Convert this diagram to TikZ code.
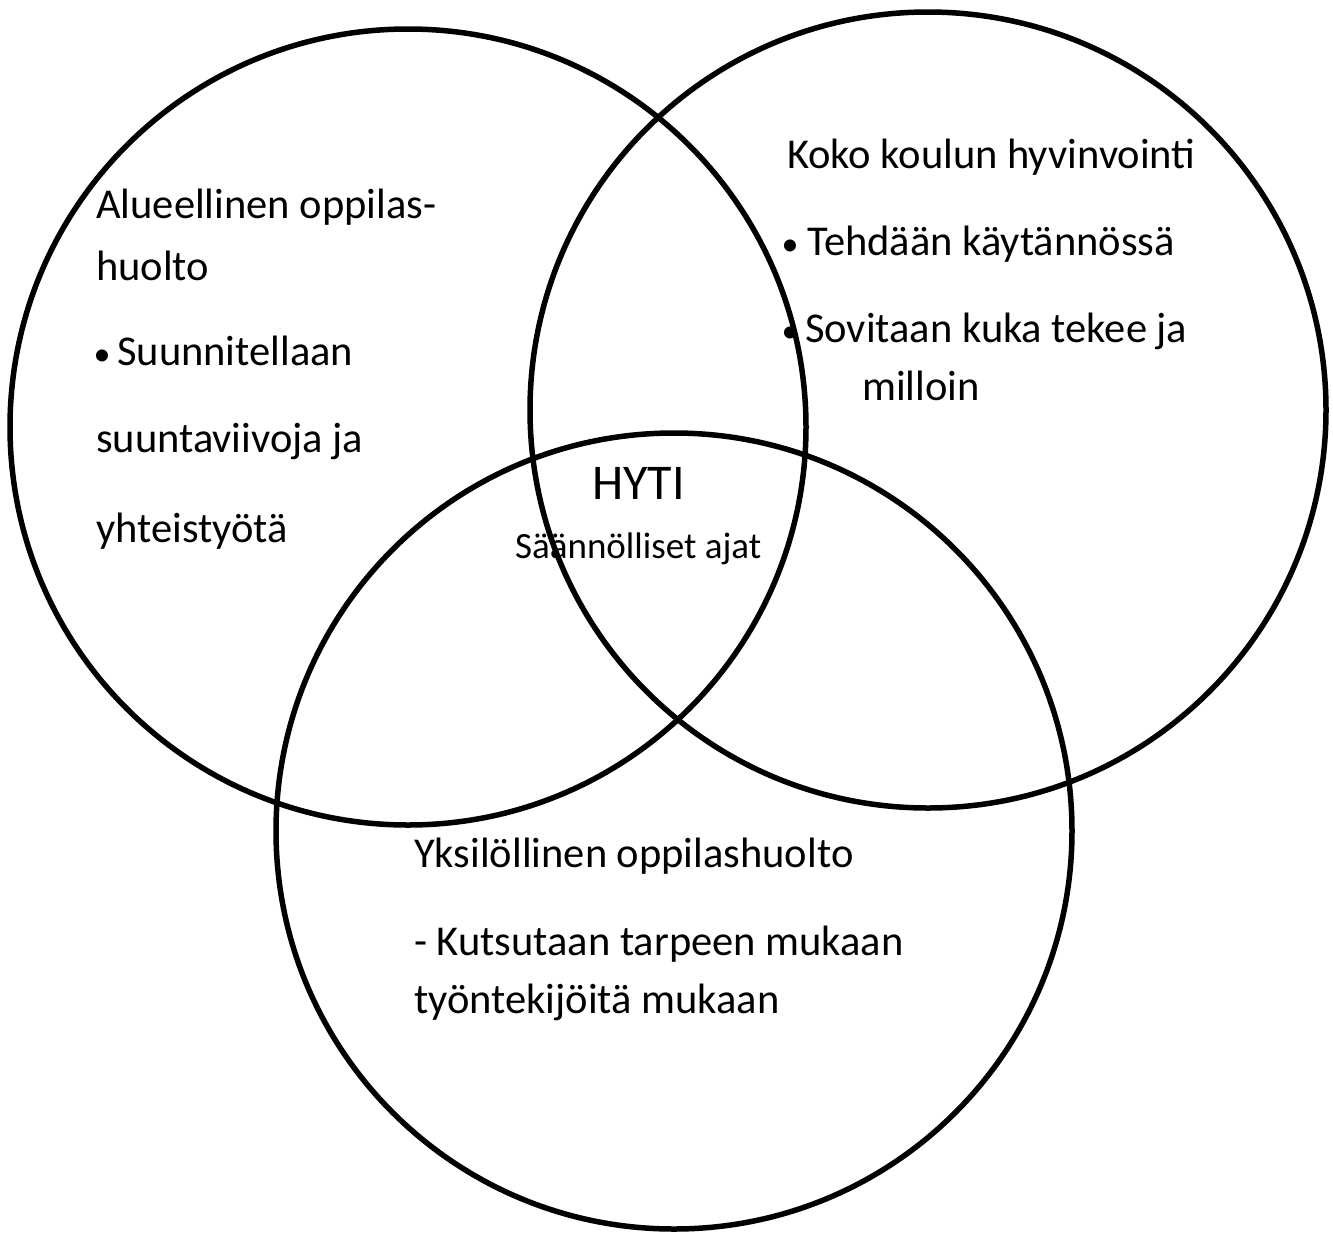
\documentclass[tikz,border=0pt]{standalone}
\usepackage{fontspec}
\setmainfont{Carlito}
\begin{document}
\begin{tikzpicture}[x=1pt,y=-1pt,
  ring/.style={draw=black,line width=5.5pt},
  txt/.style={inner sep=0pt,anchor=base west,font=\fontsize{42.5}{50}\selectfont},
  bul/.style={inner sep=0pt,anchor=base,font=\fontsize{34}{40}\selectfont},
  big/.style={inner sep=0pt,anchor=base west,font=\fontsize{50}{60}\selectfont},
  small/.style={inner sep=0pt,anchor=base west,font=\fontsize{37}{44}\selectfont}]
\useasboundingbox (0,0) rectangle (1333,1232);
\fill[white] (0,0) rectangle (1333,1232);
% circles
\draw[ring] (408,427) circle[radius=398pt];
\draw[ring] (928,410) circle[radius=398pt];
\draw[ring] (674,831) circle[radius=398pt];
% left circle
\node[txt] (l1) at (96,218) {Alueellinen oppilas-};
\node[txt] (l2) at (96,280) {huolto};
\node[bul] (lb) at (102,365) {\textbullet};
\node[txt] (l3) at (117,365) {Suunnitellaan};
\node[txt] (l4) at (96,452) {suuntaviivoja ja};
\node[txt] (l5) at (96,542) {yhteistyötä};
% right circle
\node[txt] (r1) at (787,168) {Koko koulun hyvinvointi};
\node[bul] (rb1) at (790,255) {\textbullet};
\node[txt] (r2) at (807,255) {Tehdään käytännössä};
\node[bul] (rb2) at (790,342) {\textbullet};
\node[txt] (r3) at (805,342) {Sovitaan kuka tekee ja};
\node[txt] (r4) at (862,400) {milloin};
% centre
\node[big] (c1) at (592,499) {HYTI};
\node[small] (c2) at (515,558) {Säännölliset ajat};
% bottom circle
\node[txt] (b1) at (414,867) {Yksilöllinen oppilashuolto};
\node[txt] (b2) at (414,955) {- Kutsutaan tarpeen mukaan};
\node[txt] (b3) at (414,1013) {työntekijöitä mukaan};
\end{tikzpicture}
\end{document}
